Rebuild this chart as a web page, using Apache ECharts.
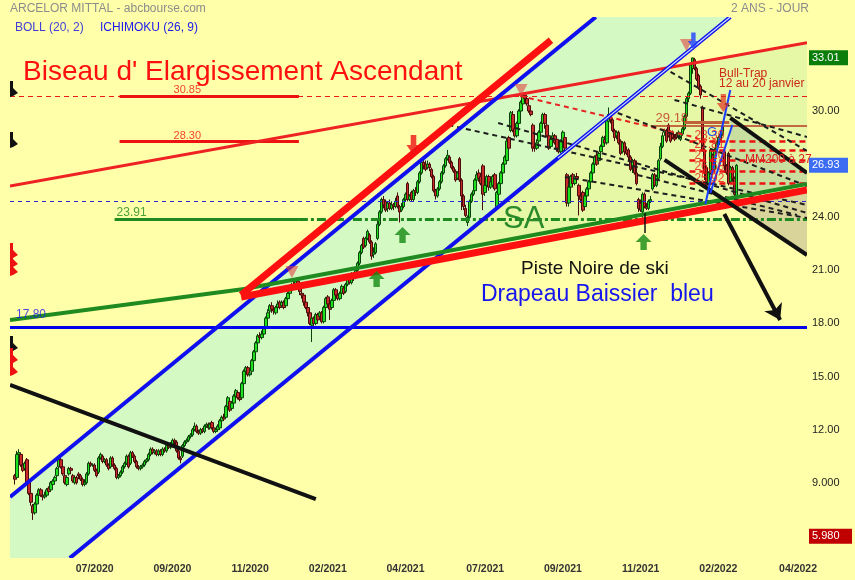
<!DOCTYPE html>
<html><head><meta charset="utf-8">
<script src="https://cdn.jsdelivr.net/npm/echarts@6/dist/echarts.min.js"></script>
<style>html,body{margin:0;padding:0;background:#ffffaa}#c{width:855px;height:580px}</style>
</head><body><div id="c"></div>
<script>
// ---------- DATA ----------
const N_SLOTS = 400;          // trading-day slots on the x axis
const FIRST_BAR = 2;          // slot of the first candle
const xTickIdx = [42,81,120,159,198,238,277,316,355,395];
const xTickLabels = ['07/2020','09/2020','11/2020','02/2021','04/2021','07/2021','09/2021','11/2021','02/2022','04/2022'];
const yTickValues = [9,12,15,18,21,24,30];
const yTickLabels = ['9.000','12.00','15.00','18.00','21.00','24.00','30.00'];
const extremeValues = [33.01, 26.93, 5.98];
const extremeLabels = ['33.01','26.93','5.980'];
const yMin = 4.75, yMax = 35.31;

// daily candles [open, close, low, high]
const ohlc = [
[9.4,9.2,8.9,9.5],[9.3,10.6,9.2,10.8],[10.6,10.7,10.4,10.9],[10.6,10.0,9.9,10.7],[10.0,9.7,9.6,10.1],[9.8,10.1,9.7,10.2],[10.3,9.0,8.9,10.4],[9.1,8.4,8.3,9.2],
[8.4,7.9,7.7,8.5],[7.7,7.3,6.9,7.8],[7.3,7.8,7.2,7.9],[7.8,8.3,7.7,8.4],[8.3,8.6,8.2,8.7],[8.6,8.3,8.2,8.7],[8.3,8.2,8.0,8.4],[8.2,8.3,8.1,8.5],
[8.3,8.6,8.2,8.7],[8.7,8.5,8.4,8.8],[8.6,9.0,8.5,9.1],[8.9,9.1,8.8,9.2],[9.1,9.3,9.0,9.4],[9.4,9.8,9.3,9.9],[9.9,10.3,9.8,10.5],[10.3,9.9,9.8,10.4],
[9.9,9.5,9.4,10.0],[9.4,9.0,8.9,9.5],[8.9,9.3,8.8,9.4],[9.5,9.8,9.4,9.9],[9.8,9.7,9.5,9.9],[9.4,9.1,9.0,9.5],[9.0,9.3,8.9,9.4],[9.3,9.0,8.9,9.4],
[9.5,9.4,9.2,9.6],[9.4,9.2,9.1,9.5],[9.2,8.9,8.8,9.3],[8.9,9.0,8.8,9.2],[9.0,9.5,8.9,9.6],[9.5,10.1,9.4,10.2],[10.1,10.0,9.9,10.2],[10.0,10.0,9.9,10.1],
[10.0,9.7,9.6,10.1],[9.7,9.4,9.3,9.8],[9.6,10.4,9.5,10.5],[10.4,10.6,10.3,10.7],[10.5,10.2,10.1,10.6],[10.2,10.3,10.1,10.4],[10.3,10.0,9.9,10.4],[10.0,9.8,9.7,10.1],
[9.9,10.4,9.8,10.5],[10.4,10.0,9.9,10.5],[10.0,9.8,9.7,10.1],[9.8,9.3,9.2,9.9],[9.3,9.4,9.2,9.5],[9.4,9.6,9.3,9.7],[9.6,9.9,9.5,10.0],[9.9,10.1,9.8,10.2],
[10.1,10.5,10.0,10.6],[10.5,9.9,9.8,10.6],[10.1,10.7,10.0,10.8],[10.7,10.5,10.4,10.8],[10.5,10.2,10.1,10.6],[10.2,9.9,9.8,10.3],[9.9,9.8,9.7,10.0],[9.8,9.9,9.7,10.0],
[9.9,10.0,9.8,10.1],[10.0,10.2,9.9,10.3],[10.2,10.3,10.1,10.4],[10.3,10.6,10.2,10.7],[10.6,10.9,10.5,11.0],[10.9,10.7,10.6,11.0],[10.7,10.8,10.6,10.9],[10.8,10.6,10.5,10.9],
[10.6,10.8,10.5,10.9],[10.8,10.6,10.5,10.9],[10.6,10.9,10.5,11.0],[10.9,10.8,10.7,11.0],[10.8,11.1,10.7,11.2],[11.1,11.0,10.9,11.2],[11.0,11.2,10.9,11.3],[11.1,11.4,11.0,11.5],
[11.4,11.3,11.1,11.5],[11.3,10.8,10.7,11.4],[10.8,10.4,10.3,10.9],[10.4,10.3,10.1,10.5],[10.5,11.1,10.4,11.2],[11.1,11.3,11.0,11.4],[11.3,11.4,11.2,11.5],[11.4,11.6,11.3,11.7],
[11.6,11.7,11.5,11.8],[11.7,12.0,11.6,12.1],[12.0,12.2,11.9,12.4],[12.2,11.9,11.8,12.3],[11.9,11.8,11.7,12.0],[11.8,12.0,11.7,12.1],[12.0,11.9,11.8,12.1],[11.9,12.2,11.8,12.3],
[12.2,12.3,12.1,12.4],[12.3,12.1,12.0,12.4],[12.1,12.3,12.0,12.4],[12.4,12.1,12.0,12.5],[12.1,11.9,11.8,12.2],[11.9,12.0,11.8,12.1],[12.0,12.2,11.9,12.3],[12.1,12.5,12.0,12.6],
[12.5,12.7,12.4,12.8],[12.7,12.6,12.5,12.9],[12.7,13.3,12.6,13.4],[13.3,13.8,13.2,13.9],[13.6,13.1,13.0,13.7],[13.2,13.5,13.1,13.6],[13.5,13.9,13.4,14.0],[13.9,14.2,13.8,14.3],
[14.1,13.8,13.7,14.2],[13.8,13.7,13.6,14.0],[13.8,14.6,13.7,14.7],[14.6,15.3,14.5,15.4],[15.3,15.5,15.2,15.6],[15.5,15.1,15.0,15.6],[15.1,15.2,15.0,15.4],[15.3,15.9,15.2,16.0],
[15.9,16.4,15.8,16.5],[16.4,16.9,16.3,17.0],[16.9,17.3,16.8,17.4],[17.3,17.2,17.0,17.5],[17.2,17.4,17.1,17.6],[17.4,17.7,17.3,17.8],[17.8,18.3,17.7,18.4],[18.3,18.6,18.2,18.8],
[18.7,19.0,18.5,19.1],[19.0,18.8,18.6,19.2],[18.8,18.7,18.5,18.9],[18.6,18.9,18.5,19.0],[18.9,19.1,18.8,19.3],[19.2,18.9,18.8,19.3],[19.0,19.2,18.9,19.3],[19.2,18.9,18.8,19.3],
[19.0,19.4,18.9,19.5],[19.4,19.7,19.3,19.8],[19.7,19.9,19.6,20.1],[19.9,20.2,19.8,20.3],[20.2,20.1,19.9,20.4],[20.1,20.4,20.0,20.5],[20.4,20.0,19.9,20.5],[20.1,19.8,19.6,20.2],
[19.7,19.6,19.4,19.8],[19.6,19.2,19.0,19.7],[19.2,18.9,18.8,19.3],[18.9,18.6,18.4,19.0],[18.6,18.0,17.9,18.7],[17.9,18.3,16.95,18.4],[18.3,18.0,17.8,18.4],[18.0,18.5,17.9,18.6],
[18.5,18.2,18.0,18.6],[18.4,18.6,18.3,18.7],[18.6,18.1,18.0,18.7],[18.1,18.9,18.0,19.0],[18.9,19.4,18.8,19.5],[19.5,19.1,18.9,19.6],[19.1,18.8,18.2,19.2],[18.9,19.3,18.8,19.4],
[19.3,19.9,19.2,20.0],[19.9,19.6,19.5,20.0],[19.6,19.4,19.3,19.7],[19.4,19.7,19.3,19.8],[19.7,20.1,19.6,20.2],[20.0,19.7,19.6,20.1],[19.8,20.2,19.7,20.3],[20.2,20.6,20.1,20.7],
[20.5,20.3,20.2,20.6],[20.3,20.8,20.2,20.9],[20.8,20.6,20.4,20.9],[20.6,21.0,20.5,21.1],[21.0,21.4,20.9,21.5],[21.4,22.0,21.3,22.1],[22.0,22.4,21.9,22.5],[22.8,22.3,22.2,22.9],
[22.4,22.8,22.3,22.9],[22.8,23.2,22.7,23.3],[23.0,22.6,22.5,23.1],[22.6,21.8,21.6,22.7],[21.9,22.0,21.7,22.3],[22.0,22.5,21.9,22.6],[22.8,23.6,22.7,23.8],[23.6,24.3,23.5,24.4],
[24.3,25.0,24.2,25.1],[25.0,24.7,24.5,25.2],[24.9,24.4,24.3,25.0],[24.5,24.8,24.3,24.9],[24.8,24.5,24.4,25.0],[24.5,24.7,24.4,24.9],[24.7,24.6,24.4,24.8],[24.6,24.9,24.5,25.1],
[25.2,24.6,24.5,25.4],[24.6,24.3,23.7,24.7],[24.4,24.6,24.3,24.8],[24.6,25.0,24.5,25.1],[25.0,25.3,24.9,25.4],[25.9,25.0,24.9,26.0],[25.0,25.2,24.9,25.3],[25.4,25.0,24.9,25.5],
[25.0,25.5,24.9,25.6],[25.5,25.4,25.2,25.7],[25.4,26.0,25.3,26.1],[26.0,26.5,25.9,26.6],[26.5,27.1,26.4,27.2],[27.1,26.9,26.7,27.4],[27.0,26.7,26.6,27.2],[26.8,27.0,26.7,27.2],
[27.0,26.8,26.6,27.1],[26.7,26.3,26.2,26.8],[26.3,25.5,25.4,26.4],[25.5,25.2,25.0,25.6],[25.2,25.6,25.1,25.7],[25.6,26.0,25.5,26.1],[26.0,26.5,25.9,26.6],[26.5,26.9,26.4,27.0],
[26.9,27.3,26.8,27.4],[27.3,27.5,27.2,27.8],[27.4,27.1,27.0,27.5],[27.1,26.8,26.7,27.2],[26.8,26.6,26.5,26.9],[26.6,26.1,26.0,26.7],[26.2,26.5,26.1,26.6],[27.3,26.1,26.0,27.4],
[26.1,25.2,24.4,26.2],[25.2,24.6,24.4,25.3],[24.5,24.1,24.0,24.7],[23.7,24.0,23.5,24.1],[24.0,24.9,23.9,25.0],[24.9,25.3,24.8,25.4],[25.3,25.5,25.2,25.6],[25.5,26.1,25.4,26.2],
[26.1,26.4,26.0,26.6],[26.5,26.2,26.0,26.7],[26.3,25.9,25.8,26.4],[26.9,25.3,24.4,27.0],[25.4,25.8,25.2,25.9],[25.8,26.3,25.7,26.4],[26.3,25.7,25.5,26.4],[25.7,26.0,25.6,26.1],
[25.8,26.3,25.7,26.4],[26.4,25.6,25.5,26.5],[24.6,25.4,24.4,25.5],[25.3,25.9,25.2,26.0],[25.9,26.5,25.8,26.6],[26.5,27.0,26.4,27.1],[27.0,27.4,26.9,27.5],[27.2,28.3,27.1,28.5],
[28.5,27.9,27.8,28.6],[28.9,29.9,28.8,30.0],[29.8,28.9,28.8,30.0],[29.0,28.6,28.5,29.2],[28.6,29.3,28.5,29.4],[29.3,30.0,29.2,30.1],[30.0,30.5,29.9,30.6],[30.4,30.9,30.3,31.0],
[30.9,30.7,30.5,31.0],[30.7,30.4,30.3,30.8],[30.3,30.0,29.9,30.4],[30.0,29.8,29.7,30.1],[29.2,27.9,27.7,29.3],[28.0,27.9,27.7,28.2],[27.9,28.2,27.8,28.4],[28.3,28.8,28.2,28.9],
[28.8,29.3,28.7,29.4],[29.3,29.8,29.2,29.9],[29.8,29.3,29.0,29.9],[29.2,28.6,28.5,29.3],[28.6,27.9,27.8,28.7],[28.0,28.4,27.9,28.6],[28.4,28.6,28.2,28.8],[28.6,28.2,28.1,28.7],
[28.4,27.9,27.7,28.5],[27.9,27.7,27.6,28.1],[27.7,28.3,27.6,28.4],[28.3,28.8,28.2,28.9],[28.5,27.9,27.7,28.6],[26.4,24.8,24.6,26.5],[24.8,25.7,24.6,25.9],[25.7,26.3,25.6,26.4],
[26.4,25.9,25.7,26.5],[25.9,26.3,25.8,26.4],[26.3,26.2,26.0,26.5],[25.8,25.2,24.1,25.9],[25.2,25.0,24.8,25.4],[25.4,24.4,24.3,25.5],[24.6,25.2,24.5,25.3],[25.2,25.6,25.1,25.7],
[25.6,26.0,25.5,26.1],[26.0,26.5,25.9,26.6],[26.5,27.0,26.4,27.1],[27.0,27.4,26.9,27.5],[27.5,27.0,26.9,27.7],[27.2,27.6,27.0,27.7],[27.7,28.0,27.6,28.1],[28.0,28.5,27.9,28.6],
[28.4,28.2,28.1,28.6],[28.2,29.5,28.1,29.6],[29.4,29.8,29.3,30.2],[29.8,29.5,29.3,29.9],[29.5,28.9,28.8,29.6],[28.9,28.5,28.3,29.0],[28.6,28.8,28.4,28.9],[28.8,28.2,28.1,28.9],
[28.3,27.6,27.5,28.4],[27.7,28.2,27.6,28.3],[28.2,27.7,27.5,28.3],[27.8,27.6,27.5,28.0],[27.8,27.4,27.2,27.9],[27.4,26.7,26.6,27.5],[26.9,27.2,26.5,27.3],[27.2,26.5,26.4,27.3],
[26.5,25.9,25.8,27.2],[25.0,24.5,24.3,25.1],[24.8,24.4,24.3,25.0],[24.3,25.3,23.6,25.4],[25.3,24.6,24.5,25.4],[24.6,24.5,24.4,24.8],[24.5,24.9,24.4,25.0],[24.9,25.0,24.8,25.2],
[25.6,26.4,25.5,26.5],[26.4,25.8,25.7,26.5],[25.8,26.3,25.7,26.4],[26.2,27.2,26.1,27.3],[27.3,28.0,27.2,28.2],[28.0,28.6,27.9,28.8],[28.8,28.9,28.6,29.0],[28.9,28.3,28.2,29.0],
[29.2,28.6,28.5,29.3],[28.7,28.3,28.2,28.9],[28.8,28.5,28.4,28.9],[28.5,28.4,28.3,28.7],[28.7,28.5,28.4,28.8],[28.5,28.8,28.4,28.9],[28.4,28.7,28.3,28.8],[28.7,29.0,28.6,29.1],
[29.0,29.7,28.9,29.8],[29.7,30.7,29.6,30.8],[30.7,31.0,30.5,31.1],[31.0,32.6,30.9,32.7],[32.4,33.0,32.1,33.01],[32.9,32.4,32.3,33.0],[32.4,31.8,31.7,32.5],[32.0,31.3,31.2,32.1],
[31.4,30.9,30.7,31.5],[30.2,27.8,27.7,30.3],[27.8,26.5,26.1,27.9],[26.8,25.8,25.7,26.9],[25.9,26.5,25.8,26.6],[26.5,27.8,26.4,27.9],[27.5,26.6,26.5,27.6],[26.7,27.8,26.6,27.9],
[27.8,28.2,27.7,28.3],[28.1,28.5,28.0,28.6],[28.4,28.7,28.3,28.9],[28.7,29.1,28.6,29.2],[27.7,26.9,26.5,27.8],[26.9,26.5,26.4,27.0],[27.6,25.9,25.8,27.7],[26.0,26.8,25.9,26.9],
[26.8,26.2,26.0,26.9],[26.2,25.3,25.1,26.3],[25.1,26.93,25.0,27.0]
];

// drawn trend lines, in [bar slot, price]
const channelUpper = [[-0.5, 8.195], [293.5, 35.31]];
const channelLower = [[29.5, 4.75], [361, 35.31]];
const channelLowerInner = [[274.5, 27.337], [361, 35.31]];
const wedgeTop = [[-0.5, 25.766], [399.5, 33.856]];
const greenSupportA = [[-0.5, 18.195], [117, 19.947]];
const greenSupportB = [[117, 19.947], [399.5, 25.885]];
const redThickLow = [[115.5, 19.495], [399.5, 25.54]];
const redThickUp = [[115.5, 19.608], [271, 34.0]];
const blackLeft = [[-0.5, 14.523], [153, 8.082]];
const flagTop = [[361, 29.608], [399.5, 26.501]];
const flagLow = [[328, 27.235], [399.5, 21.868]];
const targetArrow = [[358, 24.184], [386, 18.195]];
const poleA = [[348.5, 24.749], [361, 31.19]];
const poleB = [[351, 25.37], [362, 29.21]];
const arrowStem = [[318, 24.24], [318, 23.11]];
const redDashDesc = [[255.5, 30.851], [344.5, 28.478]];
const dashedBlack = [
  [[219.5, 29.21], [399.5, 24.693]],
  [[244.5, 29.325], [399.5, 24.24]],
  [[304.5, 29.89], [399.5, 25.766]],
  [[331, 32.207], [399.5, 27.743]],
  [[333, 30.625], [399.5, 28.535]],
  [[278, 26.275], [399.5, 23.958]],
  [[314.5, 26.388], [394.5, 24.128]]
];
// horizontal levels
const level3085 = 30.85, level2830 = 28.30, level2391 = 23.91, level1780 = 17.80, level2492 = 24.92, level2918 = 29.18;
const flagLevels = [28.30, 27.81, 27.20, 26.58, 25.92];

// shaded zones
const channelPoly = [[-0.5, 8.195], [293.5, 35.31], [361, 35.31], [29.5, 4.75], [-0.5, 4.75]];
const wedgePoly = [[217, 22.049], [329.9, 32.45], [399.5, 33.856], [399.5, 25.885]];
const flagPoly = [[361, 29.608], [399.5, 26.501], [399.5, 25.885], [361, 25.077]];
const tanPoly = [[361, 24.749], [399.5, 25.54], [399.5, 21.868]];

// arrow signals [slot, price]
const redDownArrows = [[202, 28.08], [357.5, 30.455]];
const paleRedArrows = [[256, 31.19], [141, 20.91], [339, 33.73]];
const blueDownArrows = [[342.5, 33.96]];
const greenUpArrows = [[196.5, 23.0], [183.5, 20.51], [317.5, 22.60]];

// ---------- CHART ----------
const FONT = '"Liberation Sans", Arial, Helvetica, sans-serif';
const cats = Array.from({length: N_SLOTS}, (_, k) => String(k));
const tickMap = {}; xTickIdx.forEach((k, j) => tickMap[k] = xTickLabels[j]);
const candleData = ohlc.map((d, k) => [FIRST_BAR + k, d[0], d[1], d[2], d[3]]);

function seg(coords, color, width, type) {
  return {coords: coords, lineStyle: {color: color, width: width, type: type || 'solid', opacity: 1, cap: 'butt'}};
}
function hseg(a, b, v, color, width, type) { return seg([[a, v], [b, v]], color, width, type); }

const lineItems = [
  hseg(-0.5, 399.5, level2492, '#2a2ad0', 1, [4, 4]),
  hseg(-0.5, 399.5, level3085, '#ee1a1a', 1, [5, 4]),
  hseg(54.5, 144.5, level3085, '#ee1111', 3),
  hseg(54.5, 144.5, level2830, '#ee1111', 3),
  hseg(52, 144.5, level2391, '#1f8a1f', 3),
  hseg(144.5, 399.5, level2391, '#1f8a1f', 3, [9, 3, 3, 3]),
  hseg(-0.5, 399.5, level1780, '#0000ee', 3),
  hseg(321, 399.5, level2918, '#b83a22', 1.5),
  hseg(338, 360.5, 29.38, '#c0603a', 3),
  seg(redDashDesc, '#e62222', 2, [5, 4])
].concat(flagLevels.map(v => hseg(340.5, 399.5, v, '#ee1111', 2.5, [6, 4])))
 .concat(dashedBlack.map(c => seg(c, '#1e1e1e', 2, [5, 4])))
 .concat([
  seg(wedgeTop, '#ee2222', 3),
  seg(channelUpper, '#1010ee', 4),
  seg(channelLower, '#1010ee', 4),
  seg(channelLowerInner, '#cfe4ff', 1.2),
  seg(redThickLow, '#ff1010', 7),
  seg(greenSupportA, '#1f8a1f', 4),
  seg(greenSupportB, '#1f8a1f', 4),
  seg(redThickUp, '#ff1010', 7),
  seg(blackLeft, '#111111', 4),
  seg(flagTop, '#111111', 4),
  seg(flagLow, '#111111', 4),
  seg(poleA, '#1a3cff', 2),
  seg(poleB, '#1a3cff', 2),
  seg(arrowStem, '#111111', 1.5)
]);

const polys = [
  {pts: channelPoly, fill: '#d5f9c3'},
  {pts: wedgePoly, fill: '#e6f7a6'},
  {pts: flagPoly, fill: '#c8df9f'},
  {pts: tanPoly, fill: '#d9d59a'}
];

const DOWN = 'path://M3,0L7,0L7,6L10,6L5,12L0,6L3,6Z';
const UP = 'path://M5,0L10,6L7,6L7,12L3,12L3,6L0,6Z';
const arrowItems = []
  .concat(redDownArrows.map((p, k) => ({value: p, symbol: DOWN, symbolSize: k === 0 ? [14, 20] : [13, 18], itemStyle: {color: k === 0 ? '#ee1111' : 'rgba(225,45,25,0.85)'}})))
  .concat(paleRedArrows.map(p => ({value: p, symbol: 'path://M0,0L10,0L5,10Z', symbolSize: [13, 12], itemStyle: {color: 'rgba(225,60,60,0.72)'}})))
  .concat(blueDownArrows.map(p => ({value: p, symbol: DOWN, symbolSize: [11, 17], itemStyle: {color: '#1f3fff'}})))
  .concat(greenUpArrows.map(p => ({value: p, symbol: UP, symbolSize: [16, 16], itemStyle: {color: '#138a13'}})));

function lab(i, v, text, color, size, align, dist) {
  return {value: [i, v], label: {show: true, formatter: text, position: 'top', distance: dist, align: align, color: color, fontSize: size, fontFamily: FONT}};
}
const labelItems = [
  lab(88.5, level3085, level3085.toFixed(2), '#ee1111', 11, 'center', 0),
  lab(88.5, level2830, level2830.toFixed(2), '#ee1111', 11, 'center', 0),
  lab(53, level2391, level2391.toFixed(2), '#1f8a1f', 12, 'left', 0),
  lab(2.5, level1780, level1780.toFixed(2), '#1a1aee', 12, 'left', 6),
  lab(323.5, level2918, level2918.toFixed(2), '#c03020', 13, 'left', 1)
].concat(flagLevels.map(v => lab(343, v, v.toFixed(2), '#ee1111', 12, 'left', -1)));

function txt(x, y, text, size, color, align) {
  return {type: 'text', x: x, y: y, z: 100, silent: true,
    style: {text: text, fill: color, font: size + 'px ' + FONT, textAlign: align || 'left', textVerticalAlign: 'middle', align: align || 'left', verticalAlign: 'middle'}};
}
function flagMark(y0, color) {
  return {type: 'polygon', z: 100, silent: true,
    shape: {points: [[10, y0], [13, y0], [13, y0 + 7], [18, y0 + 12], [13, y0 + 15], [10, y0 + 16]]}, style: {fill: color}};
}

const option = {
  animation: false,
  backgroundColor: '#ffffaa',
  textStyle: {fontFamily: FONT},
  grid: {left: 10, right: 45, top: 17, bottom: 22},
  xAxis: [
    {type: 'category', data: cats, boundaryGap: true,
     axisLine: {show: false}, axisTick: {show: false}, splitLine: {show: false},
     axisLabel: {interval: (k) => tickMap[k] !== undefined, formatter: (v, k) => tickMap[k] || '',
       fontSize: 10.5, fontWeight: 'bold', color: '#333', margin: 6, fontFamily: FONT}},
    {type: 'value', min: -0.5, max: N_SLOTS - 0.5, show: false}
  ],
  yAxis: [
    {type: 'value', min: yMin, max: yMax, position: 'right', scale: true,
     axisLine: {show: false}, axisTick: {show: false}, splitLine: {show: false},
     axisLabel: {customValues: yTickValues, margin: 5, fontSize: 11, color: '#1e1e1e', fontFamily: FONT,
       formatter: (v) => { const k = yTickValues.findIndex(t => Math.abs(t - v) < 1e-6); return k >= 0 ? yTickLabels[k] : ''; }}},
    {type: 'value', min: yMin, max: yMax, position: 'right', scale: true,
     axisLine: {show: false}, axisTick: {show: false}, splitLine: {show: false},
     axisLabel: {customValues: extremeValues, margin: 2, fontFamily: FONT,
       formatter: (v) => { const k = extremeValues.findIndex(t => Math.abs(t - v) < 1e-6); return k >= 0 ? '{s' + k + '|' + extremeLabels[k] + '}' : ''; },
       rich: {
         s0: {backgroundColor: '#0b7d0b', color: '#fff', fontSize: 11, padding: [2, 4, 2, 3], width: 32, fontFamily: FONT},
         s1: {backgroundColor: '#3b6cf2', color: '#fff', fontSize: 11, padding: [2, 4, 2, 3], width: 32, fontFamily: FONT},
         s2: {backgroundColor: '#c00000', color: '#fff', fontSize: 11, padding: [2, 6, 2, 3], width: 34, fontFamily: FONT}
       }}}
  ],
  series: [
    {type: 'custom', xAxisIndex: 1, yAxisIndex: 0, silent: true, z: 1, clip: false,
     data: polys.map((p, k) => [k]),
     renderItem: (params, api) => {
       const p = polys[params.dataIndex];
       return {type: 'polygon', shape: {points: p.pts.map(pt => api.coord(pt))}, style: {fill: p.fill}};
     }},
    {type: 'candlestick', xAxisIndex: 0, yAxisIndex: 0, z: 3, silent: true,
     data: candleData, encode: {x: 0, y: [1, 2, 3, 4]}, barWidth: 3,
     itemStyle: {color: '#1fe01f', color0: '#c82a2a', borderColor: '#0b420b', borderColor0: '#4a0b0b', borderWidth: 1}},
    {type: 'lines', coordinateSystem: 'cartesian2d', xAxisIndex: 1, yAxisIndex: 0, z: 4, silent: true,
     lineStyle: {opacity: 1, curveness: 0}, data: lineItems},
    {type: 'lines', coordinateSystem: 'cartesian2d', xAxisIndex: 1, yAxisIndex: 0, z: 4, silent: true,
     symbol: ['none', 'arrow'], symbolSize: 15,
     lineStyle: {opacity: 1, curveness: 0}, data: [seg(targetArrow, '#111111', 4)]},
    {type: 'scatter', xAxisIndex: 1, yAxisIndex: 0, z: 5, silent: true, data: arrowItems},
    {type: 'scatter', xAxisIndex: 1, yAxisIndex: 0, z: 6, silent: true, symbolSize: 0, data: labelItems}
  ],
  graphic: [
    txt(10, 8.5, 'ARCELOR MITTAL - abcbourse.com', 12, '#8c8c8c'),
    txt(809, 8.5, '2 ANS - JOUR', 12, '#8c8c8c', 'right'),
    txt(15, 27.5, 'BOLL (20, 2)', 12, '#4040d8'),
    txt(100, 27.5, 'ICHIMOKU (26, 9)', 12, '#1a1aee'),
    txt(23, 72, "Biseau d' Elargissement Ascendant", 28, '#ff1010'),
    txt(503, 219, 'SA', 31, '#2a8a2a'),
    txt(521, 269, 'Piste Noire de ski', 19, '#111111'),
    txt(481, 295, 'Drapeau Baissier  bleu', 23, '#1515ee'),
    txt(719, 74, 'Bull-Trap', 12, '#cc2a1a'),
    txt(719, 84, '12 au 20 janvier', 12, '#cc2a1a'),
    txt(745, 160, 'MM200 à 27', 12, '#dd2222'),
    txt(707, 132, 'G', 13, '#2255ee'),
    flagMark(81, '#111111'),
    flagMark(132, '#111111'),
    flagMark(243, '#ee1111'),
    flagMark(252, '#ee1111'),
    flagMark(260, '#ee1111'),
    flagMark(336, '#111111'),
    flagMark(348, '#ee1111'),
    flagMark(360, '#ee1111')
  ]
};
const chart = echarts.init(document.getElementById('c'), null, {renderer: 'canvas'});
chart.setOption(option);
</script>
</body></html>
